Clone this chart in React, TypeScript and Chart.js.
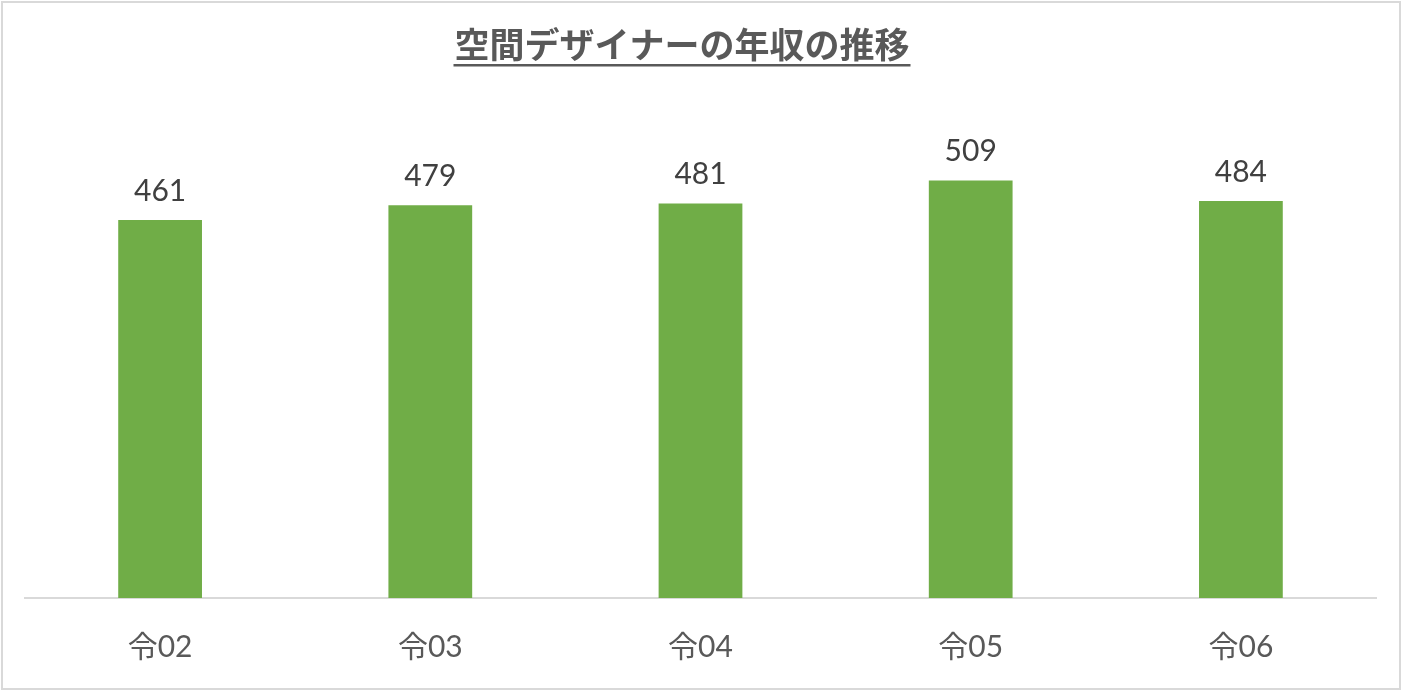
import React, { useEffect, useRef } from "react";
import { Chart, registerables } from "chart.js";

Chart.register(...registerables);

const TITLE = "空間デザイナーの年収の推移";
const categories = ["令02", "令03", "令04", "令05", "令06"];
const salaries = [461, 479, 481, 509, 484];
const yMax = 600;

const W = 1402;
const H = 691;

const frameAndTitle = {
  id: "frameAndTitle",
  beforeDraw(chart: any) {
    const ctx = chart.ctx;
    ctx.save();
    ctx.fillStyle = "#ffffff";
    ctx.fillRect(0, 0, W, H);
    ctx.strokeStyle = "#d9d9d9";
    ctx.lineWidth = 2;
    ctx.strokeRect(2, 2, W - 4, H - 4);
    ctx.restore();
  },
  afterDraw(chart: any) {
    const ctx = chart.ctx;
    ctx.save();
    ctx.font = "bold 35px 'Noto Sans CJK JP'";
    ctx.fillStyle = "#595959";
    ctx.textAlign = "center";
    ctx.textBaseline = "middle";
    const cx = 682;
    ctx.fillText(TITLE, cx, 45);
    const w = ctx.measureText(TITLE).width;
    ctx.fillRect(cx - w / 2 - 1, 64, w + 2, 2.5);
    ctx.restore();
  },
};

const dataLabels = {
  id: "dataLabels",
  afterDatasetsDraw(chart: any) {
    const ctx = chart.ctx;
    const meta = chart.getDatasetMeta(0);
    ctx.save();
    ctx.font = "30px Lato, 'Noto Sans CJK JP'";
    ctx.fillStyle = "#404040";
    ctx.textAlign = "center";
    ctx.textBaseline = "bottom";
    meta.data.forEach((bar: any, i: number) => {
      ctx.fillText(String(salaries[i]), bar.x, bar.y - 14);
    });
    ctx.restore();
  },
};

export default function App() {
  const ref = useRef<HTMLCanvasElement | null>(null);
  useEffect(() => {
    document.body.style.margin = "0";
    if (!ref.current) return;
    const chart = new Chart(ref.current, {
      type: "bar",
      data: {
        labels: categories,
        datasets: [
          {
            data: salaries,
            backgroundColor: "#70ad47",
            borderWidth: 0,
            barPercentage: 0.62,
            categoryPercentage: 0.5,
          },
        ],
      },
      options: {
        animation: false,
        responsive: false,
        maintainAspectRatio: false,
        devicePixelRatio: 1,
        layout: { padding: { top: 106, left: 25, right: 26, bottom: 0 } },
        plugins: {
          legend: { display: false },
          title: { display: false },
          tooltip: { enabled: false },
        },
        scales: {
          y: { display: false, min: 0, max: yMax },
          x: {
            grid: { display: false, drawTicks: false },
            border: { display: true, color: "#d9d9d9", width: 2 },
            ticks: {
              color: "#595959",
              font: { size: 30, family: "Lato, 'Noto Sans CJK JP'" },
              padding: 31,
            },
            afterFit(scale: any) {
              scale.height = 93;
            },
          },
        },
      },
      plugins: [frameAndTitle, dataLabels],
    });
    return () => chart.destroy();
  }, []);
  return (
    <div style={{ position: "absolute", left: 0, top: 0, width: W, height: H }}>
      <canvas ref={ref} width={W} height={H} style={{ width: W, height: H, display: "block" }} />
    </div>
  );
}
